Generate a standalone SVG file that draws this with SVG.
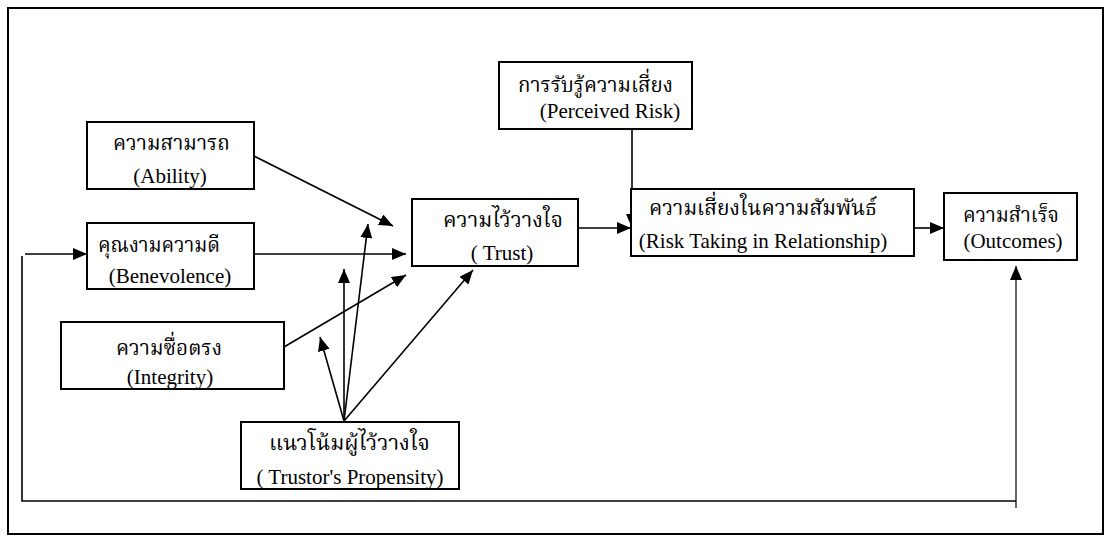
<svg xmlns="http://www.w3.org/2000/svg" width="1110" height="540" viewBox="0 0 1110 540">
  <style>
    .frame { fill: none; stroke: #000; stroke-width: 2; }
    .box { fill: #fff; stroke: #000; stroke-width: 2; }
    .th { font-family: "Liberation Serif", "Noto Serif Thai", "Noto Sans Thai", serif; font-size: 22px; fill: #000; text-anchor: middle; }
    .en { font-family: "Liberation Serif", serif; font-size: 21px; fill: #000; text-anchor: middle; }
    .ln { fill: none; stroke: #000; stroke-width: 1.6; }
    .thin { fill: none; stroke: #000; stroke-width: 1.2; }
  </style>
  <defs>
    <marker id="arrow" viewBox="0 0 14 12" refX="14" refY="6" markerWidth="14" markerHeight="12" markerUnits="userSpaceOnUse" orient="auto">
      <path d="M0,0 L14,6 L0,12 Z" fill="#000"/>
    </marker>
  </defs>

  <rect width="1110" height="540" fill="#fff"/>
  <rect class="frame" x="8" y="8" width="1095" height="526"/>

  <g id="connectors">
    <line class="ln" x1="254" y1="156" x2="393" y2="226" marker-end="url(#arrow)"/>
    <line class="ln" x1="254" y1="254" x2="406" y2="254" marker-end="url(#arrow)"/>
    <line class="ln" x1="284" y1="347" x2="406" y2="275" marker-end="url(#arrow)"/>
    <line class="ln" x1="344" y1="421" x2="320" y2="337" marker-end="url(#arrow)"/>
    <line class="ln" x1="344" y1="421" x2="344" y2="269" marker-end="url(#arrow)"/>
    <line class="ln" x1="344" y1="421" x2="368" y2="224" marker-end="url(#arrow)"/>
    <line class="ln" x1="344" y1="421" x2="473" y2="270" marker-end="url(#arrow)"/>
    <line class="ln" x1="578" y1="228" x2="631" y2="228" marker-end="url(#arrow)"/>
    <line class="ln" x1="632" y1="129" x2="632" y2="228" marker-end="url(#arrow)"/>
    <line class="ln" x1="914" y1="228" x2="944" y2="228" marker-end="url(#arrow)"/>
    <line class="thin" x1="1016" y1="508" x2="1016" y2="266" marker-end="url(#arrow)"/>
    <polyline class="ln" points="1016,501 22,501 22,256"/>
    <line class="ln" x1="25" y1="254" x2="87" y2="254" marker-end="url(#arrow)"/>
  </g>

  <g id="ability">
    <rect class="box" x="87" y="122" width="167" height="67"/>
    <text class="th" x="171.5" y="150" textLength="117" lengthAdjust="spacingAndGlyphs">ความสามารถ</text>
    <text class="en" x="170" y="183">(Ability)</text>
  </g>

  <g id="benevolence">
    <rect class="box" x="87" y="223" width="167" height="66"/>
    <text class="th" x="159" y="252" textLength="122" lengthAdjust="spacingAndGlyphs">คุณงามความดี</text>
    <text class="en" x="170" y="283">(Benevolence)</text>
  </g>

  <g id="integrity">
    <rect class="box" x="61" y="322" width="223" height="67"/>
    <text class="th" x="169" y="355" textLength="106" lengthAdjust="spacingAndGlyphs">ความซื่อตรง</text>
    <text class="en" x="170" y="384">(Integrity)</text>
  </g>

  <g id="propensity">
    <rect class="box" x="241" y="422" width="218" height="67"/>
    <text class="th" x="349.5" y="450" textLength="161" lengthAdjust="spacingAndGlyphs">แนวโน้มผู้ไว้วางใจ</text>
    <text class="en" x="350" y="484">( Trustor's Propensity)</text>
  </g>

  <g id="trust">
    <rect class="box" x="412" y="199" width="166" height="67"/>
    <text class="th" x="503" y="227" textLength="120" lengthAdjust="spacingAndGlyphs">ความไว้วางใจ</text>
    <text class="en" x="502" y="260">( Trust)</text>
  </g>

  <g id="perceived-risk">
    <rect class="box" x="499" y="62" width="193" height="67"/>
    <text class="th" x="595.5" y="92" textLength="155" lengthAdjust="spacingAndGlyphs">การรับรู้ความเสี่ยง</text>
    <text class="en" x="610" y="118">(Perceived Risk)</text>
  </g>

  <g id="risk-taking">
    <rect class="box" x="631" y="189" width="283" height="67"/>
    <text class="th" x="763" y="215" textLength="228" lengthAdjust="spacingAndGlyphs">ความเสี่ยงในความสัมพันธ์</text>
    <text class="en" x="763" y="248">(Risk Taking in Relationship)</text>
  </g>

  <g id="outcomes">
    <rect class="box" x="944" y="193" width="133" height="67"/>
    <text class="th" x="1011" y="222" textLength="96" lengthAdjust="spacingAndGlyphs">ความสำเร็จ</text>
    <text class="en" x="1013" y="248">(Outcomes)</text>
  </g>
</svg>
